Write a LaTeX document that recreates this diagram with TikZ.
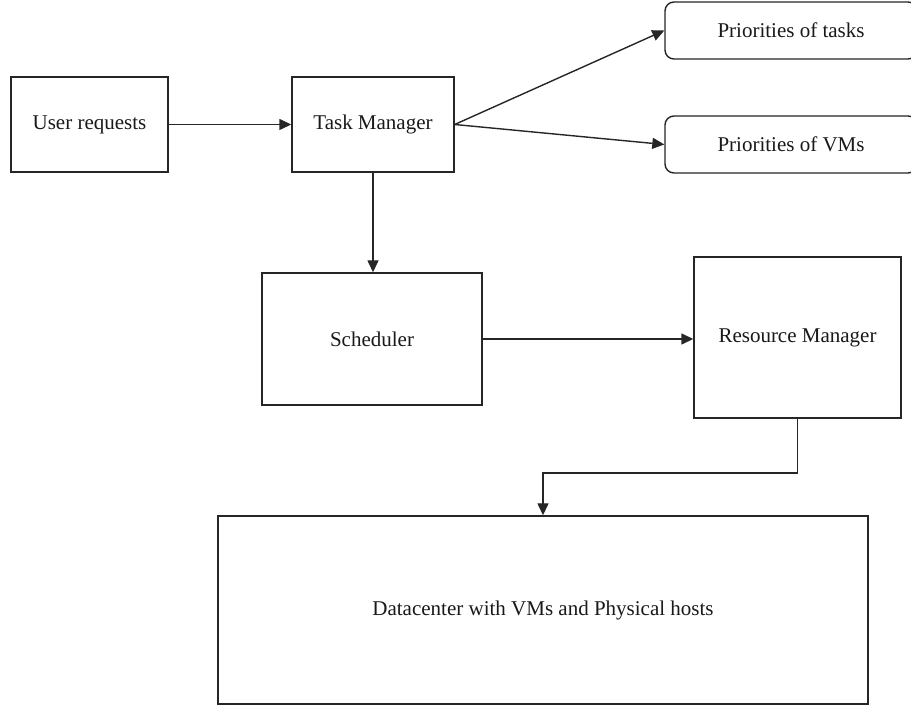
\documentclass[tikz,border=0pt]{standalone}
\usepackage{fontspec}
\setmainfont{Liberation Serif}
\usetikzlibrary{arrows.meta}
\begin{document}
\begin{tikzpicture}[x=1pt,y=-1pt,
  box/.style={draw=black!85,line width=1.4pt,fill=white,inner sep=0pt,align=center,
    font=\fontsize{21}{25}\selectfont,text=black!90},
  rbox/.style={box,rounded corners=9pt},
  conn/.style={draw=black!85,line width=1.4pt,-{Triangle[length=12pt,width=11pt]}}]
\useasboundingbox (0,0) rectangle (911,708);
\node[box,minimum width=157pt,minimum height=95pt] (ur) at (89.5,124.5) {User requests};
\node[box,minimum width=162pt,minimum height=95pt] (tm) at (373,124.5) {Task Manager};
\node[rbox,minimum width=252pt,minimum height=57pt] (pt) at (791,30.5) {Priorities of tasks};
\node[rbox,minimum width=252pt,minimum height=57pt] (pv) at (791,144.5) {Priorities of VMs};
\node[box,minimum width=220pt,minimum height=132pt] (sch) at (372,339) {Scheduler};
\node[box,minimum width=207pt,minimum height=161pt] (rm) at (797.5,337.5) {Resource Manager};
\node[box,minimum width=650pt,minimum height=188pt] (dc) at (543,610) {Datacenter with VMs and Physical hosts};
\coordinate (tmr) at (tm.east);
\draw[conn] (ur.east) -- (tm.west);
\draw[conn] (tmr) -- (pt.west);
\draw[conn] (tmr) -- (pv.west);
\draw[conn] (tm.south) -- (tm.south |- sch.north);
\draw[conn] (sch.east) -- (sch.east -| rm.west);
\coordinate (bend) at (797.5,473);
\draw[conn] (rm.south) -- (bend) -| (dc.north);
\end{tikzpicture}
\end{document}
